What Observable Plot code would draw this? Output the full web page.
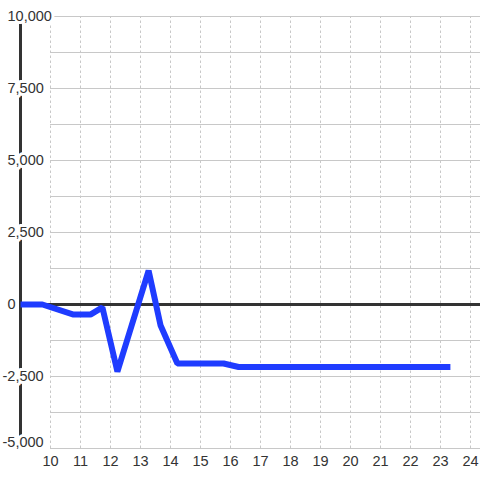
<!DOCTYPE html>
<html>
<head>
<meta charset="utf-8">
<script src="https://cdn.jsdelivr.net/npm/d3@7"></script>
<script src="https://cdn.jsdelivr.net/npm/@observablehq/plot@0.6"></script>
<style>
  html, body { margin: 0; padding: 0; background: #ffffff; }
  #chart { width: 480px; height: 480px; }
</style>
</head>
<body>
<div id="chart"></div>
<script>
// Series values
const xValues = [9.0, 9.73, 10.77, 11.33, 11.73, 12.23, 13.27, 13.67, 14.23, 15.77, 16.27, 23.33];
const yValues = [0, 0, -350, -350, -100, -2330, 1180, -730, -2050, -2050, -2170, -2170];

// Tick labels
const xTicks = [10, 11, 12, 13, 14, 15, 16, 17, 18, 19, 20, 21, 22, 23, 24];
const yTicks = [10000, 7500, 5000, 2500, 0, -2500, -5000];
const yGrid = [-5000, -3750, -2500, -1250, 1250, 2500, 3750, 5000, 6250, 7500, 8750, 10000];
const axisPosition = 9;

const series = xValues.map((x, i) => ({x, y: yValues[i]}));
const fmt = d3.format(",");
const font = "Liberation Sans, Arial, sans-serif";

const labelStyle = {
  text: d => fmt(d).replace("−", "-"),
  textAnchor: "start",
  fill: "#333333", fontSize: 14.5, fontFamily: font,
  stroke: "#ffffff", strokeWidth: 6, strokeLinejoin: "round"
};

const chart = Plot.plot({
  width: 480,
  height: 480,
  margin: 0,
  style: {background: "#ffffff", fontFamily: font},
  x: {domain: [10, 24], range: [50, 470], axis: null},
  y: {domain: [-5000, 10000], range: [448, 16], axis: null},
  marks: [
    // horizontal grid
    Plot.ruleY(yGrid, {y: d => d, x1: 10, x2: 24.4, stroke: "#c8c8c8", strokeWidth: 1}),
    // vertical dashed grid
    Plot.ruleX(xTicks, {x: d => d, y1: -5000, y2: 10000, stroke: "#c8c8c8", strokeWidth: 1, strokeDasharray: "2.5,2.5"}),
    // y axis line
    Plot.ruleX([axisPosition], {x: d => d, y1: -5000, y2: 10000, stroke: "#333333", strokeWidth: 3}),
    // zero line
    Plot.ruleY([0], {y: d => d, x1: axisPosition, x2: 24.4, stroke: "#333333", strokeWidth: 3}),
    // series
    Plot.line(series, {x: "x", y: "y", stroke: "#1f3cff", strokeWidth: 6, strokeLinejoin: "miter", strokeLinecap: "butt", curve: "linear"}),
    // y tick labels (non-negative)
    Plot.text(yTicks.filter(d => d >= 0), {...labelStyle, x: axisPosition, y: d => d, dx: -13}),
    // y tick labels (negative, above bottom)
    Plot.text(yTicks.filter(d => d < 0 && d > -5000), {...labelStyle, x: axisPosition, y: d => d, dx: -18}),
    // bottom y tick label
    Plot.text(yTicks.filter(d => d === -5000), {...labelStyle, x: axisPosition, y: d => d, dx: -18, dy: -6}),
    // x tick labels
    Plot.text(xTicks, {
      x: d => d, y: -5000, dy: 13, text: d => String(d),
      textAnchor: "middle", fill: "#333333", fontSize: 14.5, fontFamily: font
    })
  ]
});

document.getElementById("chart").appendChild(chart);
</script>
</body>
</html>
